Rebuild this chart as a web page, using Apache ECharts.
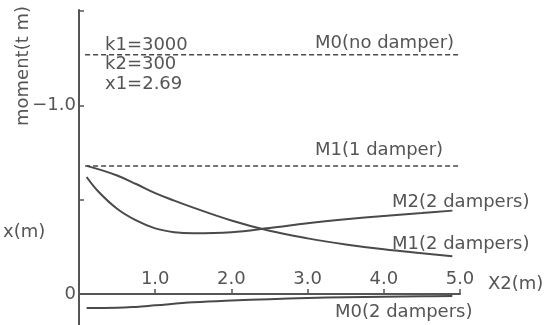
<!DOCTYPE html>
<html>
<head>
<meta charset="utf-8">
<script src="https://cdn.jsdelivr.net/npm/echarts@6/dist/echarts.min.js"></script>
<style>html,body{margin:0;padding:0;background:#fff}#c{width:553px;height:325px}</style>
</head>
<body>
<div id="c"></div>
<script>
// ---- data ----
const xCurve = [0.1, 0.25, 0.5, 0.75, 1.0, 1.25, 1.5, 2.0, 2.5, 3.0, 3.5, 4.0, 4.5, 4.9];
const m2TwoDampers = [0.62, 0.545, 0.452, 0.39, 0.348, 0.328, 0.322, 0.328, 0.35, 0.375, 0.396, 0.414, 0.429, 0.442];
const m1TwoDampers = [0.679, 0.662, 0.628, 0.583, 0.535, 0.495, 0.458, 0.39, 0.335, 0.295, 0.263, 0.237, 0.216, 0.2];
const xM0 = [0.1, 0.5, 0.75, 1.0, 1.5, 2.0, 2.5, 3.0, 3.5, 4.0, 4.5, 4.9];
const m0TwoDampers = [-0.074, -0.073, -0.068, -0.060, -0.044, -0.034, -0.027, -0.021, -0.017, -0.014, -0.012, -0.011];
const xFlat = [0.08, 5.0];
const m0NoDamper = [1.268, 1.268];
const m1OneDamper = [0.679, 0.679];
const xTickValues = [1, 2, 3, 4, 5];
const yTickValues = [0.5, 1.0, 1.5];
const yLabelValues = [0, 1.0];
const yLabelTexts = ['0', '\u22121.0'];

const pairs = (xs, ys) => xs.map((x, i) => [x, ys[i]]);
const FONT = '18px "DejaVu Sans"';
const TXT = '#555';
const LINE = '#4a4a4a';

const chart = echarts.init(document.getElementById('c'), null, {renderer: 'canvas'});
const txt = (t, x, y, align) => ({
  type: 'text', x: x, y: y, silent: true,
  style: {text: t, font: FONT, fill: TXT, align: align || 'left', verticalAlign: 'middle'}
});

chart.setOption({
  animation: false,
  backgroundColor: '#fff',
  grid: {left: 79, right: 93, top: 10, bottom: 0, containLabel: false, outerBoundsMode: 'none'},
  xAxis: {
    type: 'value', min: 0, max: 5, position: 'bottom',
    axisLine: {onZero: true, lineStyle: {color: '#555', width: 2}},
    axisTick: {show: true, inside: true, length: 5, customValues: xTickValues, lineStyle: {color: '#555', width: 1.5}},
    axisLabel: {show: false},
    splitLine: {show: false}
  },
  yAxis: {
    type: 'value', min: -0.164, max: 1.505,
    axisLine: {show: true, onZero: false, lineStyle: {color: '#555', width: 2}},
    axisTick: {show: true, inside: true, length: 5, customValues: yTickValues, lineStyle: {color: '#555', width: 1.5}},
    axisLabel: {margin: 3, customValues: yLabelValues,
      formatter: v => yLabelTexts[yLabelValues.indexOf(Math.round(v * 10) / 10)] || '',
      fontFamily: 'DejaVu Sans', fontSize: 18, color: TXT},
    splitLine: {show: false}
  },
  series: [
    {name: 'M0(no damper)', type: 'line', data: pairs(xFlat, m0NoDamper), symbol: 'none',
      lineStyle: {color: LINE, width: 1.5, type: [5, 3]}},
    {name: 'M1(1 damper)', type: 'line', data: pairs(xFlat, m1OneDamper), symbol: 'none',
      lineStyle: {color: LINE, width: 1.5, type: [5, 3]}},
    {name: 'M2(2 dampers)', type: 'line', data: pairs(xCurve, m2TwoDampers), symbol: 'none', smooth: 0.4,
      lineStyle: {color: LINE, width: 2}},
    {name: 'M1(2 dampers)', type: 'line', data: pairs(xCurve, m1TwoDampers), symbol: 'none', smooth: 0.4,
      lineStyle: {color: LINE, width: 2}},
    {name: 'M0(2 dampers)', type: 'line', data: pairs(xM0, m0TwoDampers), symbol: 'none', smooth: 0.4,
      lineStyle: {color: LINE, width: 2}},
    {name: 'xTickLabels', type: 'scatter', symbolSize: 0, silent: true,
      itemStyle: {opacity: 1, color: TXT},
      data: xTickValues.map(v => [v, 0]),
      label: {show: true, position: 'top', distance: 6, opacity: 1, formatter: p => p.value[0].toFixed(1),
        fontFamily: 'DejaVu Sans', fontSize: 18, color: TXT}}
  ],
  graphic: [
    txt('k1=3000', 105, 45.5),
    txt('k2=300', 105, 64.5),
    txt('x1=2.69', 105, 84),
    txt('M0(no damper)', 315, 43),
    txt('M1(1 damper)', 315, 150.5),
    txt('M2(2 dampers)', 392, 202),
    txt('M1(2 dampers)', 392, 244.5),
    txt('X2(m)', 488, 284.5),
    txt('M0(2 dampers)', 335, 312.5),
    txt('x(m)', 3, 232),
    {type: 'text', x: 23, y: 66, rotation: Math.PI / 2, silent: true,
      style: {text: 'moment(t m)', font: FONT, fill: TXT, align: 'center', verticalAlign: 'middle'}}
  ]
});
</script>
</body>
</html>
